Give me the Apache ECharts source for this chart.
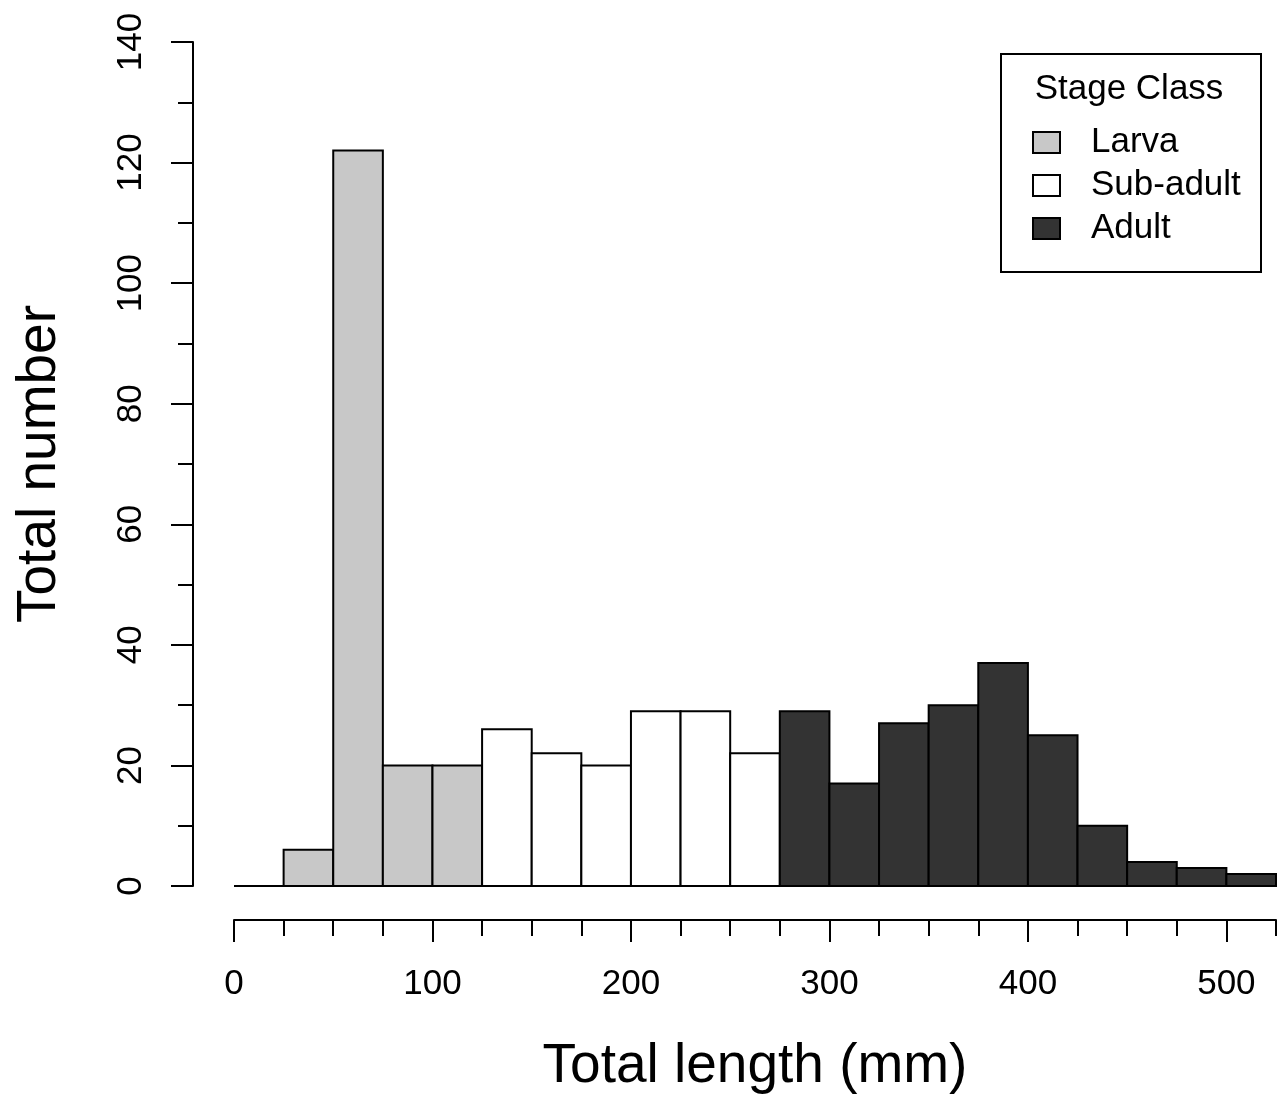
<!DOCTYPE html>
<html>
<head>
<meta charset="utf-8">
<script src="https://cdn.jsdelivr.net/npm/echarts@6/dist/echarts.min.js"></script>
<style>
  html, body { margin: 0; padding: 0; background: #ffffff; }
  #chart { width: 1282px; height: 1095px; }
</style>
</head>
<body>
<div id="chart"></div>
<script>
// ---- data ----
const binStarts = [0, 25, 50, 75, 100, 125, 150, 175, 200, 225, 250, 275, 300, 325, 350, 375, 400, 425, 450, 475, 500];
const binWidth = 25;
const counts = [0, 6, 122, 20, 20, 26, 22, 20, 29, 29, 22, 29, 17, 27, 30, 37, 25, 10, 4, 3, 2];
const stages = ['Larva', 'Larva', 'Larva', 'Larva', 'Larva',
  'Sub-adult', 'Sub-adult', 'Sub-adult', 'Sub-adult', 'Sub-adult', 'Sub-adult',
  'Adult', 'Adult', 'Adult', 'Adult', 'Adult', 'Adult', 'Adult', 'Adult', 'Adult', 'Adult'];
const stageNames = ['Larva', 'Sub-adult', 'Adult'];
const stageColors = { 'Larva': '#c8c8c8', 'Sub-adult': '#ffffff', 'Adult': '#333333' };
const xTickLabels = [0, 100, 200, 300, 400, 500];
const yTickLabels = [0, 20, 40, 60, 80, 100, 120, 140];
const legendTitle = 'Stage Class';
const xTitle = 'Total length (mm)';
const yTitle = 'Total number';

const FONT = '"Liberation Sans", Arial, Helvetica, sans-serif';

function seriesFor(stage) {
  const data = [];
  binStarts.forEach((s, i) => {
    if (stages[i] === stage) data.push([s, s + binWidth, counts[i]]);
  });
  return {
    type: 'custom',
    name: stage,
    xAxisIndex: 0,
    yAxisIndex: 0,
    itemStyle: { color: stageColors[stage], borderColor: '#000', borderWidth: 2 },
    encode: { x: [0, 1], y: 2 },
    renderItem: function (params, api) {
      const p0 = api.coord([api.value(0), api.value(2)]);
      const p1 = api.coord([api.value(1), 0]);
      return {
        type: 'rect',
        shape: { x: p0[0], y: p0[1], width: p1[0] - p0[0], height: p1[1] - p0[1] },
        style: { fill: stageColors[stage], stroke: '#000', lineWidth: 2 }
      };
    },
    data: data
  };
}

const chart = echarts.init(document.getElementById('chart'), null, { renderer: 'canvas' });

const axisLineStyle = { show: true, onZero: false, lineStyle: { color: '#000', width: 2 } };

chart.setOption({
  animation: false,
  backgroundColor: '#ffffff',
  grid: { left: 234, right: 6, top: 42, bottom: 209, containLabel: false, outerBoundsMode: 'none' },
  xAxis: [
    {
      type: 'value', min: 0, max: 525, interval: 25, position: 'bottom', offset: 34,
      axisLine: axisLineStyle,
      axisTick: { show: true, length: 16, lineStyle: { color: '#000', width: 2 } },
      axisLabel: { show: false },
      splitLine: { show: false }
    },
    {
      type: 'value', min: 0, max: 525, interval: 25, position: 'bottom', offset: 34,
      axisLine: { show: false, onZero: false },
      axisTick: { show: true, length: 22, customValues: xTickLabels, lineStyle: { color: '#000', width: 2 } },
      axisLabel: {
        show: true, customValues: xTickLabels, margin: 47,
        color: '#000', fontSize: 35, fontFamily: FONT
      },
      splitLine: { show: false },
      name: xTitle, nameLocation: 'middle', nameGap: 119,
      nameTextStyle: { color: '#000', fontSize: 55, fontFamily: FONT }
    }
  ],
  yAxis: [
    {
      type: 'value', min: 0, max: 140, interval: 10, position: 'left', offset: 41,
      axisLine: axisLineStyle,
      axisTick: { show: true, length: 15, lineStyle: { color: '#000', width: 2 } },
      axisLabel: { show: false },
      splitLine: { show: false }
    },
    {
      type: 'value', min: 0, max: 140, interval: 20, position: 'left', offset: 41,
      axisLine: { show: false, onZero: false },
      axisTick: { show: true, length: 22, customValues: yTickLabels, lineStyle: { color: '#000', width: 2 } },
      axisLabel: {
        show: true, customValues: yTickLabels, rotate: 90, margin: 44,
        color: '#000', fontSize: 35, fontFamily: FONT
      },
      splitLine: { show: false },
      name: yTitle, nameLocation: 'middle', nameGap: 126, nameRotate: 90,
      nameTextStyle: { color: '#000', fontSize: 55, fontFamily: FONT }
    }
  ],
  legend: {
    orient: 'vertical',
    left: 1032, top: 125, padding: 0,
    itemWidth: 27, itemHeight: 21, itemGap: 8,
    selectedMode: false,
    textStyle: { color: '#000', fontSize: 35, fontFamily: FONT, lineHeight: 35, padding: [0, 0, 0, 26] },
    data: stageNames.map(n => ({
      name: n, icon: 'rect',
      itemStyle: { color: stageColors[n], borderColor: '#000', borderWidth: 2 }
    }))
  },
  graphic: [
    {
      type: 'rect', left: 1000, top: 53, z: 0,
      shape: { width: 260, height: 218 },
      style: { fill: '#fff', stroke: '#000', lineWidth: 2 }
    },
    {
      type: 'text', x: 1129, y: 89, z: 10,
      style: { text: legendTitle, fill: '#000', font: '35px ' + FONT, textAlign: 'center', textVerticalAlign: 'middle' }
    }
  ],
  series: stageNames.map(seriesFor)
});
</script>
</body>
</html>
